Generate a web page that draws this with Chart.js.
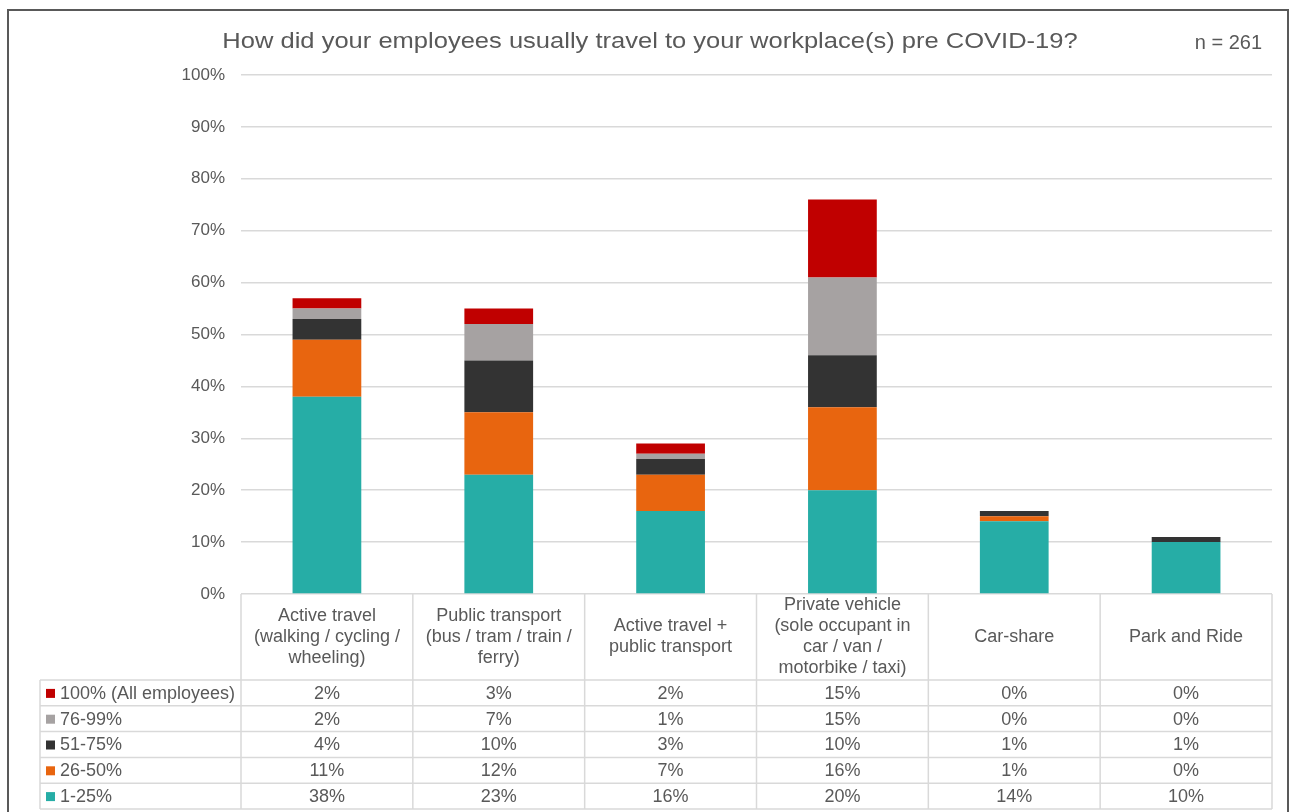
<!DOCTYPE html>
<html>
<head>
<meta charset="utf-8">
<script src="https://cdn.jsdelivr.net/npm/chart.js@4.4.1/dist/chart.umd.min.js"></script>
<style>
  html, body { margin: 0; padding: 0; background: #fff; }
  #wrap { width: 1296px; height: 812px; }
</style>
</head>
<body>
<div id="wrap"><canvas id="travelChart" width="1296" height="812"></canvas></div>
<script>
// Travel mode categories (header cells of the table, one line per array entry)
const categories = [
  ['Active travel', '(walking / cycling /', 'wheeling)'],
  ['Public transport', '(bus / tram / train /', 'ferry)'],
  ['Active travel +', 'public transport'],
  ['Private vehicle', '(sole occupant in', 'car / van /', 'motorbike / taxi)'],
  ['Car-share'],
  ['Park and Ride']
];

// Share of employees bands, stacked bottom to top
const band1to25  = [38, 23, 16, 20, 14, 10];
const band26to50 = [11, 12, 7, 16, 1, 0];
const band51to75 = [4, 10, 3, 10, 1, 1];
const band76to99 = [2, 7, 1, 15, 0, 0];
const band100    = [2, 3, 2, 15, 0, 0];

const bandNames  = ['1-25%', '26-50%', '51-75%', '76-99%', '100% (All employees)'];
const bandColors = ['#26ada6', '#e8650f', '#333333', '#a6a2a2', '#c00000'];

const yTicks = [0, 10, 20, 30, 40, 50, 60, 70, 80, 90, 100];

const chartTitle = 'How did your employees usually travel to your workplace(s) pre COVID-19?';
const sampleNote = 'n = 261';

const bandValues = [band1to25, band26to50, band51to75, band76to99, band100];

const FONT = '"Liberation Sans", Arial, sans-serif';
const TEXT = '#595959';
const LINE = '#d9d9d9';
const headerHeight = 86;
const rowHeight = 25.8;
const tableLeft = 40;

// frame, title and the data table under the bars
const tablePlugin = {
  id: 'dataTable',
  afterDraw(chart) {
    const ctx = chart.ctx;
    const area = chart.chartArea;
    const colW = (area.right - area.left) / categories.length;
    const top = area.bottom;
    const rowsTop = top + headerHeight;
    const bottom = rowsTop + rowHeight * bandNames.length;

    ctx.save();

    // outer frame
    ctx.strokeStyle = '#595959';
    ctx.lineWidth = 2;
    ctx.beginPath();
    ctx.moveTo(8, 830);
    ctx.lineTo(8, 10);
    ctx.lineTo(1288, 10);
    ctx.lineTo(1288, 830);
    ctx.stroke();

    // title (slightly widened face) and sample size
    ctx.fillStyle = TEXT;
    ctx.textBaseline = 'middle';
    ctx.textAlign = 'center';
    ctx.font = '22px ' + FONT;
    ctx.save();
    ctx.translate(650, 42);
    ctx.scale(1.16, 1);
    ctx.fillText(chartTitle, 0, 0);
    ctx.restore();
    ctx.textAlign = 'right';
    ctx.font = '20px ' + FONT;
    ctx.fillText(sampleNote, 1262, 43);

    // table grid
    ctx.strokeStyle = LINE;
    ctx.lineWidth = 1.5;
    ctx.beginPath();
    for (let i = 0; i <= categories.length; i++) {
      const x = area.left + i * colW;
      ctx.moveTo(x, top);
      ctx.lineTo(x, bottom);
    }
    ctx.moveTo(tableLeft, rowsTop);
    ctx.lineTo(tableLeft, bottom);
    for (let r = 0; r <= bandNames.length; r++) {
      const y = rowsTop + r * rowHeight;
      ctx.moveTo(tableLeft, y);
      ctx.lineTo(area.right, y);
    }
    ctx.stroke();

    // header cells
    ctx.fillStyle = TEXT;
    ctx.textAlign = 'center';
    ctx.font = '18px ' + FONT;
    const lineH = 21;
    categories.forEach((lines, i) => {
      const cx = area.left + (i + 0.5) * colW;
      const cy = top + headerHeight / 2;
      const start = cy - (lines.length - 1) * lineH / 2;
      lines.forEach((t, k) => ctx.fillText(t, cx, start + k * lineH));
    });

    // value rows, highest band first
    for (let r = 0; r < bandNames.length; r++) {
      const b = bandNames.length - 1 - r;
      const cy = rowsTop + (r + 0.5) * rowHeight + 1;
      ctx.fillStyle = bandColors[b];
      ctx.fillRect(46, cy - 5, 9, 9);
      ctx.fillStyle = TEXT;
      ctx.textAlign = 'left';
      ctx.fillText(bandNames[b], 60, cy);
      ctx.textAlign = 'center';
      bandValues[b].forEach((v, i) => {
        ctx.fillText(v + '%', area.left + (i + 0.5) * colW, cy);
      });
    }

    ctx.restore();
  }
};

const datasets = bandNames.map((name, i) => ({
  label: name,
  data: bandValues[i],
  backgroundColor: bandColors[i],
  borderWidth: 0,
  barPercentage: 0.4,
  categoryPercentage: 1
}));

new Chart(document.getElementById('travelChart').getContext('2d'), {
  type: 'bar',
  data: {
    labels: categories.map(c => c.join(' ')),
    datasets: datasets
  },
  options: {
    responsive: false,
    animation: false,
    layout: { padding: { top: 75, right: 24, bottom: 218, left: 0 } },
    plugins: {
      legend: { display: false },
      title: { display: false },
      tooltip: { enabled: false }
    },
    scales: {
      x: {
        stacked: true,
        display: false
      },
      y: {
        stacked: true,
        min: 0,
        max: 100,
        afterBuildTicks: (scale) => { scale.ticks = yTicks.map(v => ({ value: v })); },
        afterFit: (scale) => { scale.width = 241; },
        border: { display: false },
        grid: { color: LINE, lineWidth: 1.5, drawTicks: false },
        ticks: {
          padding: 16,
          color: TEXT,
          font: { family: FONT, size: 17 },
          callback: v => v + '%'
        }
      }
    }
  },
  plugins: [tablePlugin]
});
</script>
</body>
</html>
